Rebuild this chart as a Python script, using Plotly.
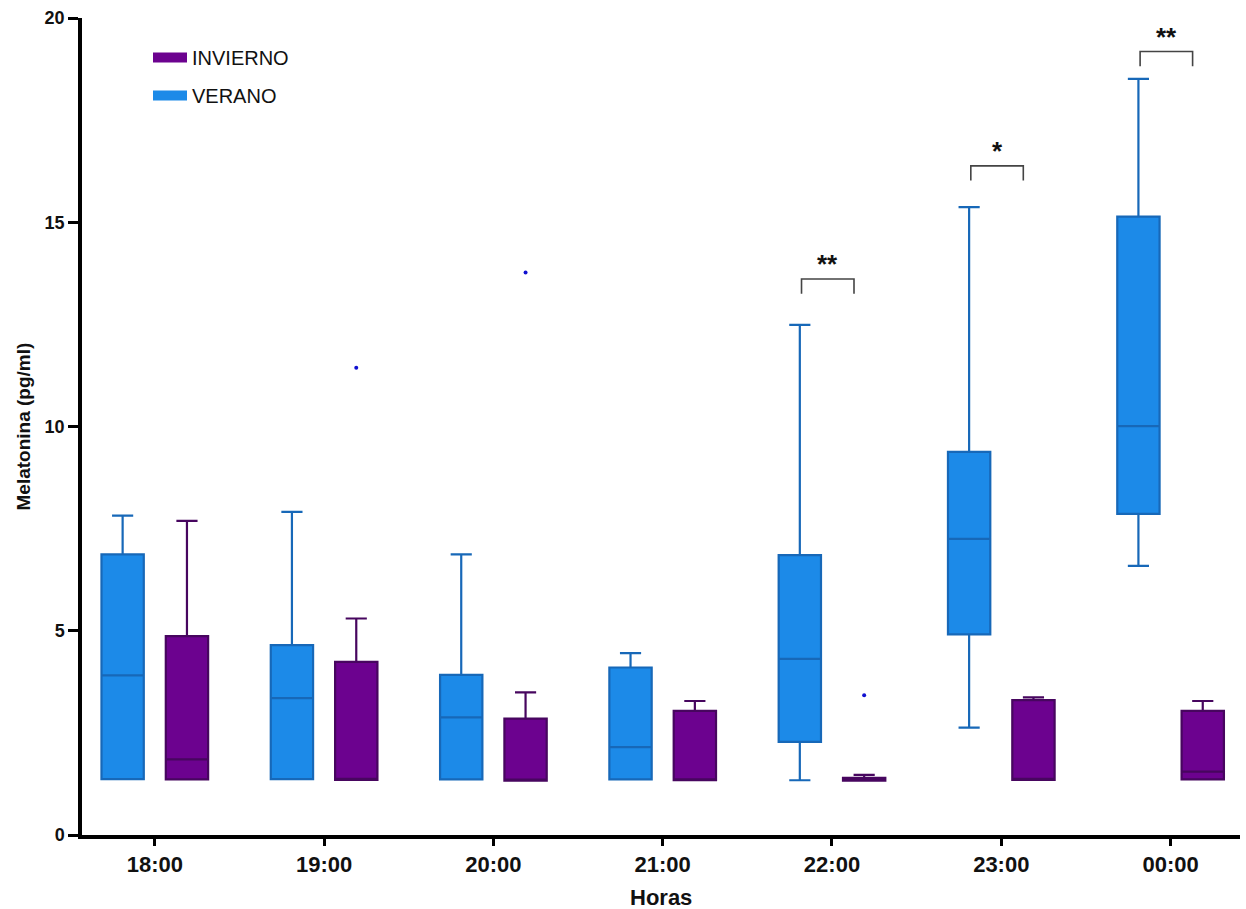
import plotly.graph_objects as go

horas = ["18:00", "19:00", "20:00", "21:00", "22:00", "23:00", "00:00"]

verano_min = [1.37, 1.37, 1.36, 1.36, 1.34, 2.63, 6.59]
verano_q1 = [1.37, 1.37, 1.36, 1.36, 2.28, 4.91, 7.86]
verano_med = [3.91, 3.35, 2.88, 2.15, 4.31, 7.25, 10.01]
verano_q3 = [6.87, 4.65, 3.92, 4.10, 6.85, 9.38, 15.14]
verano_max = [7.82, 7.91, 6.87, 4.45, 12.49, 15.37, 18.51]

invierno_min = [1.36, 1.35, 1.33, 1.34, 1.33, 1.35, 1.36]
invierno_q1 = [1.36, 1.35, 1.33, 1.34, 1.33, 1.35, 1.36]
invierno_med = [1.85, 1.36, 1.34, 1.35, 1.37, 1.36, 1.55]
invierno_q3 = [4.87, 4.24, 2.85, 3.04, 1.40, 3.30, 3.04]
invierno_max = [7.69, 5.30, 3.49, 3.28, 1.47, 3.37, 3.28]

outlier_hora = ["19:00", "20:00", "22:00"]
outlier_val = [11.44, 13.77, 3.42]

sig_hora = ["22:00", "23:00", "00:00"]
sig_nivel = [13.61, 16.38, 19.18]
sig_texto = ["**", "*", "**"]

OFF = 0.19
BOXW = 0.25
pos = {h: i for i, h in enumerate(horas)}

VER_FILL, VER_LINE = "#1C8AE8", "#1768B8"
INV_FILL, INV_LINE = "#6C028F", "#47065F"

fig = go.Figure()

fig.add_trace(go.Box(
    name="INVIERNO", showlegend=False,
    x=[pos[h] + OFF for h in horas],
    q1=invierno_q1, median=invierno_med, q3=invierno_q3,
    lowerfence=invierno_min, upperfence=invierno_max,
    width=BOXW, whiskerwidth=0.5, boxpoints=False,
    fillcolor=INV_FILL, line=dict(color=INV_LINE, width=2.2),
))
fig.add_trace(go.Box(
    name="VERANO", showlegend=False,
    x=[pos[h] - OFF for h in horas],
    q1=verano_q1, median=verano_med, q3=verano_q3,
    lowerfence=verano_min, upperfence=verano_max,
    width=BOXW, whiskerwidth=0.5, boxpoints=False,
    fillcolor=VER_FILL, line=dict(color=VER_LINE, width=2.2),
))

# legend entries (wide rectangular swatches)
fig.add_trace(go.Scatter(
    x=[None], y=[None], mode="lines", name="INVIERNO", legendgroup="inv",
    line=dict(color=INV_FILL, width=13),
))
fig.add_trace(go.Scatter(
    x=[None], y=[None], mode="lines", name="VERANO", legendgroup="ver",
    line=dict(color=VER_FILL, width=13),
))

fig.add_trace(go.Scatter(
    x=[pos[h] + OFF for h in outlier_hora], y=outlier_val,
    mode="markers", marker=dict(color="#1010D0", size=4),
    showlegend=False, hoverinfo="y",
))

# significance brackets
for h, lvl, txt in zip(sig_hora, sig_nivel, sig_texto):
    c = pos[h]
    x0, x1 = c - 0.18, c + 0.13
    fig.add_trace(go.Scatter(
        x=[x0, x0, x1, x1], y=[lvl - 0.36, lvl, lvl, lvl - 0.36],
        mode="lines", line=dict(color="#444444", width=1.6),
        showlegend=False, hoverinfo="skip",
    ))
    fig.add_annotation(
        x=(x0 + x1) / 2, y=lvl, text=f"<b>{txt}</b>", showarrow=False,
        yanchor="bottom", yshift=-2, font=dict(size=26, color="#111111"),
    )

font_fam = "Arial, 'Liberation Sans', sans-serif"

fig.update_layout(
    width=1246, height=909,
    margin=dict(l=82, r=6, t=18, b=74),
    paper_bgcolor="white", plot_bgcolor="white",
    font=dict(family=font_fam, color="black"),
    showlegend=True,
    legend=dict(
        x=(148 - 82) / 1158, y=1 - 20 / 817, xanchor="left", yanchor="top",
        font=dict(size=20, color="#111111"),
        bgcolor="rgba(0,0,0,0)", traceorder="grouped",
        itemwidth=34, tracegroupgap=9,
    ),
    xaxis=dict(
        range=[-0.43, 6.41], tickmode="array",
        tickvals=list(range(len(horas))), ticktext=[f"<b>{h}</b>" for h in horas],
        showline=True, linecolor="black", linewidth=3.5,
        ticks="outside", ticklen=7, tickwidth=3, tickcolor="black",
        tickfont=dict(size=22, color="#111111"),
        showgrid=False, zeroline=False,
    ),
    yaxis=dict(
        range=[0, 20], tickmode="array", tickvals=[0, 5, 10, 15, 20],
        ticktext=["<b>0</b>", "<b>5</b>", "<b>10</b>", "<b>15</b>", "<b>20</b>"],
        showline=True, linecolor="black", linewidth=3.5,
        ticks="outside", ticklen=10, tickwidth=3, tickcolor="black",
        tickfont=dict(size=18, color="#111111"),
        showgrid=False, zeroline=False,
    ),
)

fig.add_annotation(
    xref="paper", yref="paper", x=0.5, y=0, yshift=-62,
    text="<b>Horas</b>", showarrow=False, yanchor="middle",
    font=dict(size=22, color="#111111"),
)
fig.add_annotation(
    xref="paper", yref="paper", x=0, y=0.5, xshift=-59,
    text="<b>Melatonina (pg/ml)</b>", showarrow=False, textangle=-90,
    xanchor="center", yanchor="middle",
    font=dict(size=19, color="#111111"),
)

fig.write_html(
    "out.html",
    config={"displayModeBar": False},
    post_script="document.body.style.margin='0';document.body.style.overflow='hidden';",
)
